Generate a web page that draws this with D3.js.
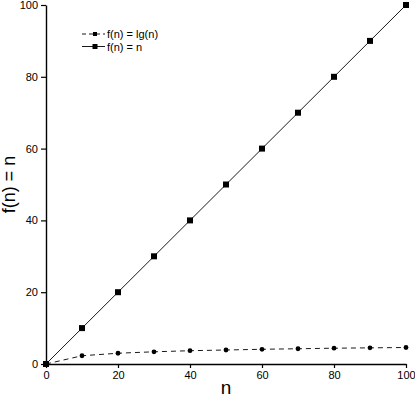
<!DOCTYPE html>
<html>
<head>
<meta charset="utf-8">
<script src="https://cdn.jsdelivr.net/npm/d3@7"></script>
<style>
  body { margin: 0; background: #fff; }
  svg { display: block; font-family: "Liberation Sans", Arial, sans-serif; }
</style>
</head>
<body>
<svg id="chart"></svg>
<script>
// data
var nValues = [0, 10, 20, 30, 40, 50, 60, 70, 80, 90, 100];
var lgValues = [0, 2.3, 3.0, 3.4, 3.7, 3.9, 4.1, 4.25, 4.4, 4.5, 4.6];
var linValues = [0, 10, 20, 30, 40, 50, 60, 70, 80, 90, 100];
var xTicks = [0, 20, 40, 60, 80, 100];
var yTicks = [0, 20, 40, 60, 80, 100];
var legendLabels = ["f(n) = lg(n)", "f(n) = n"];

var width = 415, height = 398;
var plotLeft = 46, plotRight = 406, plotTop = 5, plotBottom = 364;

var svg = d3.select("#chart")
  .attr("width", width)
  .attr("height", height);

var x = d3.scaleLinear().domain([0, 100]).range([plotLeft, plotRight]);
var y = d3.scaleLinear().domain([0, 100]).range([plotBottom, plotTop]);

// axes
var xAxis = svg.append("g")
  .attr("transform", "translate(0," + plotBottom + ")")
  .call(d3.axisBottom(x).tickValues(xTicks).tickSize(4).tickSizeOuter(0).tickPadding(3));
var yAxis = svg.append("g")
  .attr("transform", "translate(" + plotLeft + ",0)")
  .call(d3.axisLeft(y).tickValues(yTicks).tickSize(5).tickSizeOuter(0).tickPadding(3));

[xAxis, yAxis].forEach(function (a) {
  a.select(".domain").attr("stroke", "#000").attr("stroke-width", 1.4);
  a.selectAll(".tick line").attr("stroke", "#000").attr("stroke-width", 1.2);
  a.selectAll(".tick text")
    .attr("fill", "#000")
    .style("font-size", "11px");
});

// axis labels
svg.append("text")
  .attr("x", 226)
  .attr("y", 394)
  .attr("text-anchor", "middle")
  .style("font-size", "19px")
  .text("n");

svg.append("text")
  .attr("transform", "translate(15," + ((plotTop + plotBottom) / 2) + ") rotate(-90)")
  .attr("text-anchor", "middle")
  .style("font-size", "18px")
  .text("f(n) = n");

var line = d3.line()
  .x(function (d) { return x(d[0]); })
  .y(function (d) { return y(d[1]); });

var lgData = d3.zip(nValues, lgValues);
var linData = d3.zip(nValues, linValues);

// f(n) = n
svg.append("path")
  .datum(linData)
  .attr("fill", "none")
  .attr("stroke", "#000")
  .attr("stroke-width", 0.9)
  .attr("d", line);

svg.selectAll(".sq")
  .data(linData)
  .enter()
  .append("rect")
  .attr("class", "sq")
  .attr("x", function (d) { return x(d[0]) - 3; })
  .attr("y", function (d) { return y(d[1]) - 3; })
  .attr("width", 6)
  .attr("height", 6)
  .attr("fill", "#000");

// f(n) = lg(n)
svg.append("path")
  .datum(lgData)
  .attr("fill", "none")
  .attr("stroke", "#000")
  .attr("stroke-width", 0.9)
  .attr("stroke-dasharray", "5,4")
  .attr("d", line);

svg.selectAll(".dot")
  .data(lgData)
  .enter()
  .append("circle")
  .attr("class", "dot")
  .attr("cx", function (d) { return x(d[0]); })
  .attr("cy", function (d) { return y(d[1]); })
  .attr("r", 2.4)
  .attr("fill", "#000");

// legend
var legende = svg.selectAll(".legend")
  .data(legendLabels)
  .enter()
  .append("g")
  .attr("class", "legend")
  .attr("transform", function (d, i) {
    return "translate(82," + (34 + i * 12.5) + ")";
  });

legende.append("line")
  .attr("x1", 0)
  .attr("x2", 23)
  .attr("stroke", "#000")
  .attr("stroke-width", 0.9)
  .attr("stroke-dasharray", function (d, i) { return i == 0 ? "4,3" : null; });

legende.append("rect")
  .attr("x", function (d, i) { return i == 0 ? 11 : 10.5; })
  .attr("y", function (d, i) { return i == 0 ? -2 : -2.5; })
  .attr("width", function (d, i) { return i == 0 ? 4 : 5; })
  .attr("height", function (d, i) { return i == 0 ? 4 : 5; })
  .attr("fill", "#000");

legende.append("text")
  .attr("x", 25)
  .attr("y", 4)
  .style("font-size", "11px")
  .text(function (d) { return d; });
</script>
</body>
</html>
